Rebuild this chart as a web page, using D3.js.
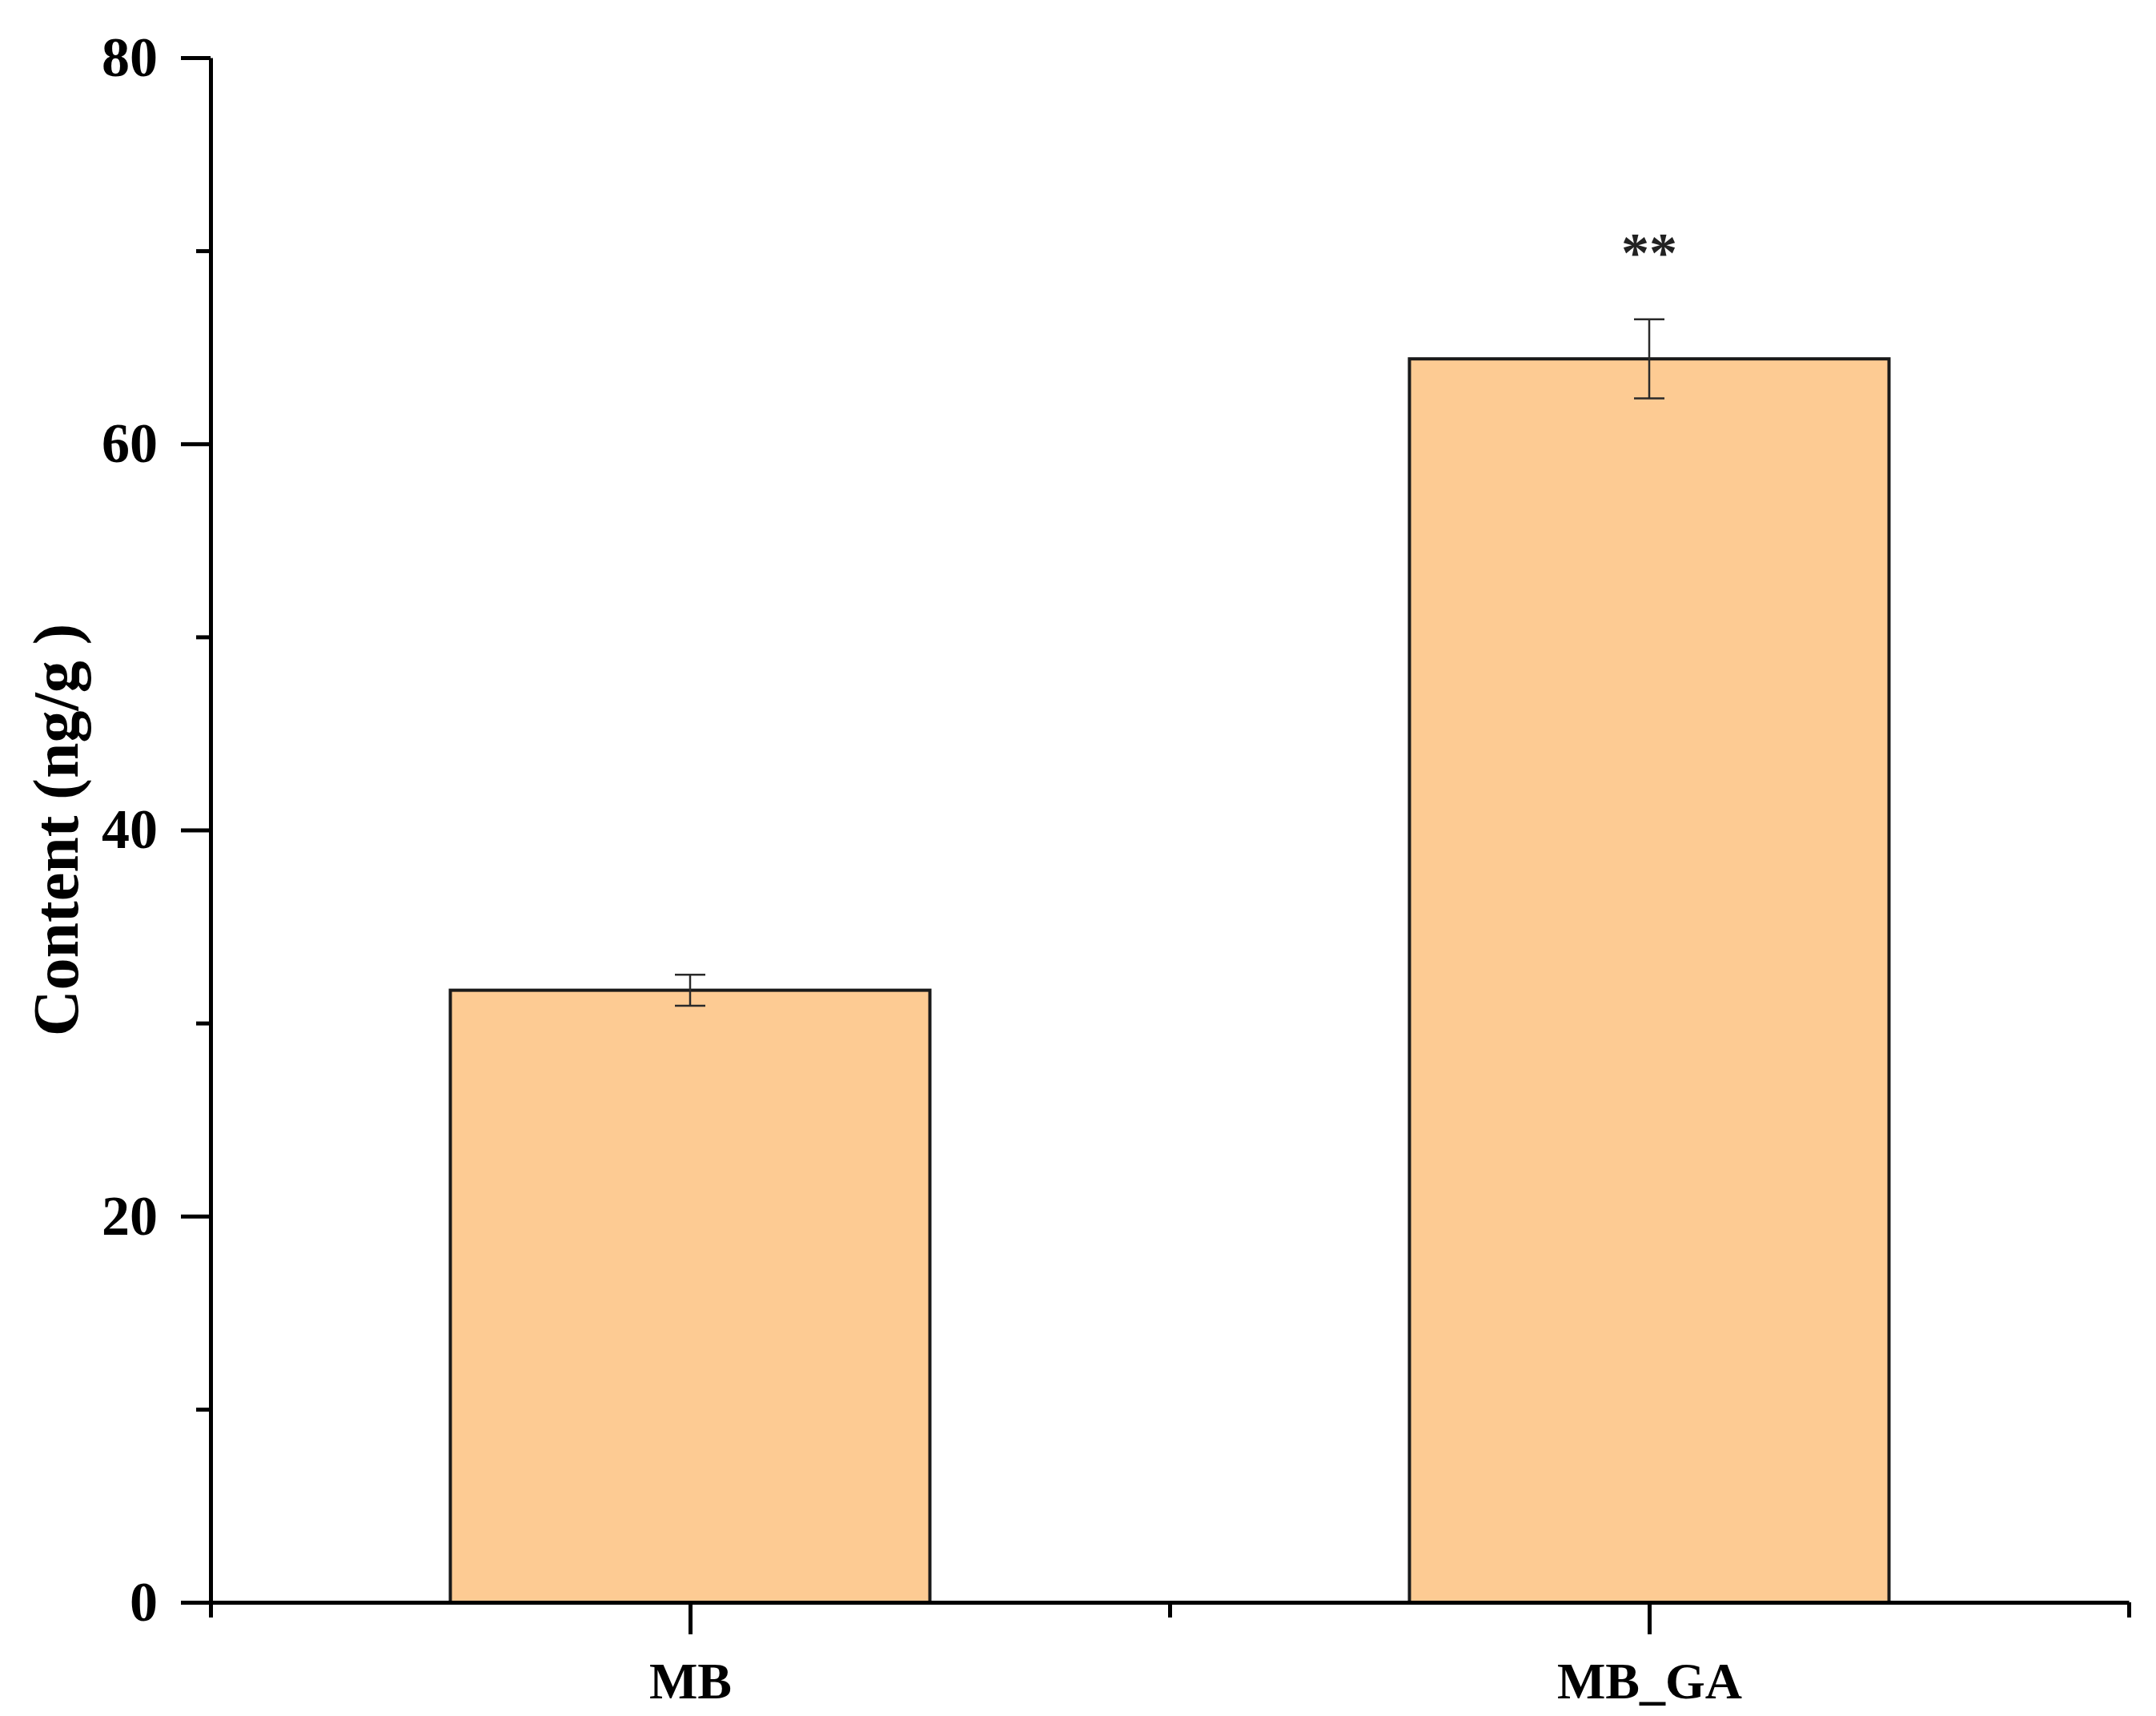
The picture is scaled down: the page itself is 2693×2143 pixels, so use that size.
<!DOCTYPE html>
<html>
<head>
<meta charset="utf-8">
<script src="https://cdn.jsdelivr.net/npm/d3@7"></script>
<style>
  html, body { margin: 0; padding: 0; background: #fff; }
  svg text { font-family: "Liberation Serif", "Times New Roman", serif; font-weight: bold; }
</style>
</head>
<body>
<svg id="chart" width="2693" height="2143"></svg>
<script>
// Data
const categories = ['MB', 'MB_GA'];
const means = [31.7, 64.4];
const errors = [0.8, 2.05];
const marks = ['', '**'];
const yMajorTicks = [0, 20, 40, 60, 80];
const yMinorTicks = [10, 30, 50, 70];

(function() {
  'use strict';

  const svg = d3.select('#chart');

  // Origin-style axes: categories sit at 1, 2 on a 0.5..2.5 axis
  const x = d3.scaleLinear().domain([0.5, 2.5]).range([263, 2659]);
  const y = d3.scaleLinear().domain([0, 80]).range([2001, 72]);
  const barWidth = 0.5;

  const data = categories.map((c, i) => ({
    name: c, pos: i + 1, value: means[i], err: errors[i], mark: marks[i],
  }));

  // bars
  svg.append('g').selectAll('rect')
    .data(data)
    .join('rect')
    .attr('x', d => x(d.pos - barWidth / 2))
    .attr('width', d => x(d.pos + barWidth / 2) - x(d.pos - barWidth / 2))
    .attr('y', d => y(d.value))
    .attr('height', d => y(0) - y(d.value))
    .attr('fill', '#fdcb93')
    .attr('stroke', '#1a1a1a')
    .attr('stroke-width', 4);

  // error bars
  const capHalf = 19;
  const eg = svg.append('g')
    .attr('stroke', '#2a2a2a')
    .attr('stroke-width', 2.5);
  data.forEach(d => {
    const cx = x(d.pos);
    eg.append('line')
      .attr('x1', cx).attr('x2', cx)
      .attr('y1', y(d.value + d.err)).attr('y2', y(d.value - d.err));
    [d.value + d.err, d.value - d.err].forEach(v => {
      eg.append('line')
        .attr('x1', cx - capHalf).attr('x2', cx + capHalf)
        .attr('y1', y(v)).attr('y2', y(v));
    });
  });

  // significance marks
  svg.append('g').selectAll('text')
    .data(data.filter(d => d.mark))
    .join('text')
    .attr('x', d => x(d.pos))
    .attr('y', d => y(d.value + d.err) - 60)
    .attr('text-anchor', 'middle')
    .attr('font-size', 70)
    .attr('fill', '#222')
    .text(d => d.mark);

  // y axis: major + minor ticks
  const yAxis = svg.append('g')
    .attr('transform', `translate(${x(0.5)},0)`)
    .call(d3.axisLeft(y).tickValues(yMajorTicks).tickSize(37).tickPadding(29)
      .tickSizeOuter(0).tickFormat(d3.format('d')));
  yAxis.selectAll('text').attr('font-size', 70).attr('fill', '#000');

  svg.append('g')
    .attr('transform', `translate(${x(0.5)},0)`)
    .call(d3.axisLeft(y).tickValues(yMinorTicks).tickSize(18).tickFormat(''))
    .call(g => g.select('.domain').remove());

  // x axis: category ticks + minor ticks between
  const xAxis = svg.append('g')
    .attr('transform', `translate(0,${y(0)})`)
    .call(d3.axisBottom(x).tickValues(data.map(d => d.pos)).tickSize(40).tickPadding(35)
      .tickSizeOuter(0).tickFormat((d, i) => categories[i]));
  xAxis.selectAll('text').attr('font-size', 64).attr('fill', '#000');

  svg.append('g')
    .attr('transform', `translate(0,${y(0)})`)
    .call(d3.axisBottom(x).tickValues([0.5, 1.5, 2.5]).tickSize(19).tickFormat(''))
    .call(g => g.select('.domain').remove());

  svg.selectAll('.domain, .tick line')
    .attr('stroke', '#000')
    .attr('stroke-width', 5);

  // y axis title
  svg.append('text')
    .attr('transform', `translate(70,${(y(0) + y(80)) / 2}) rotate(-90)`)
    .attr('text-anchor', 'middle')
    .attr('dominant-baseline', 'central')
    .attr('font-size', 80)
    .attr('fill', '#000')
    .text('Content (ng/g )');
})();
</script>
</body>
</html>
